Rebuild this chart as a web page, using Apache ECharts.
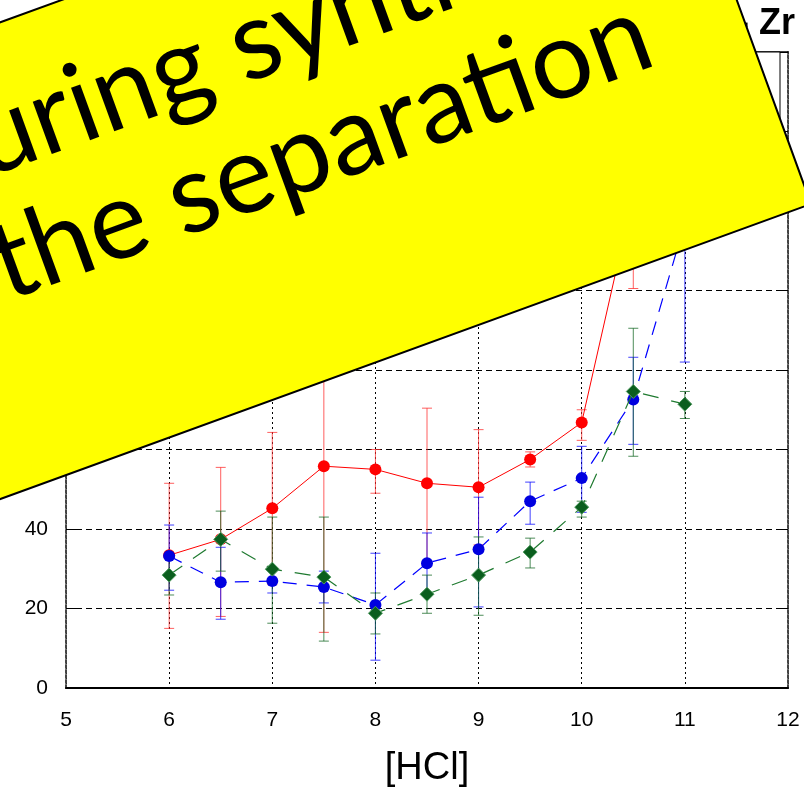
<!DOCTYPE html>
<html>
<head>
<meta charset="utf-8">
<script src="https://cdn.jsdelivr.net/npm/echarts@6/dist/echarts.min.js"></script>
<style>html,body{margin:0;padding:0;background:#fff}#c{width:804px;height:793px}</style>
</head>
<body>
<div id="c"></div>
<script>
// ---- data ----
const hcl = [6, 6.5, 7, 7.5, 8, 8.5, 9, 9.5, 10, 10.5, 11];
const redMean = [33.4, 37.4, 45.2, 55.8, 55.0, 51.5, 50.5, 57.5, 66.8, 124, 138];
const redLow  = [15.0, 18.0, 26.0, 14.0, 49.0, 31.0, 36.0, 55.6, 62.3, 100.5, 118];
const redHigh = [51.5, 55.5, 64.3, 97.6, 60.0, 70.4, 65.0, 59.4, 70.0, 147.5, 158];
const blueMean = [33.2, 26.6, 26.9, 25.4, 20.9, 31.4, 34.9, 47.0, 52.8, 72.6, 117];
const blueLow  = [24.6, 17.3, 23.9, 21.4, 7.0, 23.8, 20.4, 41.2, 44.2, 61.3, 82];
const blueHigh = [41.0, 35.4, 29.9, 29.4, 33.9, 39.0, 48.0, 51.8, 60.8, 83.2, 152];
const greenMean = [28.4, 37.4, 29.9, 27.9, 18.8, 23.6, 28.4, 34.2, 45.5, 74.6, 71.4];
const greenLow  = [23.4, 29.4, 16.3, 11.8, 13.6, 18.8, 18.3, 30.2, 43.0, 58.3, 67.8];
const greenHigh = [33.4, 44.5, 43.0, 43.0, 23.9, 28.4, 38.0, 37.7, 47.0, 90.5, 74.6];
const seriesNames = ['Run 1', 'Run 2', 'Run 3'];
const xTicks = [5, 6, 7, 8, 9, 10, 11, 12];
const yTicks = [0, 20, 40, 60, 80, 100, 120, 140, 160];
const xName = '[HCl]';
const titleText = 'Hf - Zr';
const banner1 = 'during synthesis';
const banner2 = 'the separation';

const pts = (m) => hcl.map((x, i) => [x, m[i]]);
const bars = (lo, hi) => hcl.map((x, i) => [x, lo[i], hi[i]]);

function errRender(color) {
  return function (params, api) {
    const x = api.value(0), lo = api.value(1), hi = api.value(2);
    const a = api.coord([x, lo]), b = api.coord([x, hi]);
    const hw = 5;
    const st = { stroke: color, lineWidth: 1, opacity: 0.75 };
    return { type: 'group', children: [
      { type: 'line', shape: { x1: a[0], y1: a[1], x2: b[0], y2: b[1] }, style: st },
      { type: 'line', shape: { x1: a[0] - hw, y1: a[1], x2: a[0] + hw, y2: a[1] }, style: st },
      { type: 'line', shape: { x1: b[0] - hw, y1: b[1], x2: b[0] + hw, y2: b[1] }, style: st }
    ]};
  };
}

const chart = echarts.init(document.getElementById('c'), null, { renderer: 'canvas' });
const ROT = 20 * Math.PI / 180;
const option = {
  animation: false,
  backgroundColor: '#fff',
  textStyle: { fontFamily: 'Liberation Sans, Arial, sans-serif' },
  title: {
    text: titleText, right: 4, top: 1,
    textStyle: { fontSize: 36, fontWeight: 'bold', color: '#000', fontFamily: 'Liberation Sans, Arial, sans-serif' }
  },
  legend: {
    data: seriesNames, orient: 'vertical', right: 24, top: 52,
    backgroundColor: '#fff', borderColor: '#000', borderWidth: 1,
    padding: [6, 34, 6, 8], itemGap: 10, itemHeight: 14,
    textStyle: { fontSize: 16, color: '#000' }
  },
  grid: { left: 66, right: 16, top: 52, bottom: 105, containLabel: false },
  xAxis: [{
    type: 'value', min: xTicks[0], max: xTicks[xTicks.length - 1], interval: 1,
    name: xName, nameLocation: 'middle', nameGap: 62,
    nameTextStyle: { fontSize: 38, color: '#000', fontFamily: 'Liberation Sans, Arial, sans-serif' },
    axisLine: { onZero: false, lineStyle: { color: '#000', width: 2 } },
    axisTick: { show: false },
    axisLabel: { fontSize: 21, color: '#000', margin: 22 },
    splitLine: { show: true, lineStyle: { color: '#000', width: 1, type: [2, 3] } }
  }, {
    type: 'value', position: 'top', min: 5, max: 12, interval: 1,
    axisLine: { show: true, onZero: false, lineStyle: { color: '#000', width: 1.5 } },
    axisTick: { show: false }, axisLabel: { show: false }, splitLine: { show: false }
  }],
  yAxis: [{
    type: 'value', min: yTicks[0], max: yTicks[yTicks.length - 1], interval: 20,
    axisLine: { show: true, onZero: false, lineStyle: { color: '#444', width: 2, type: [3, 2] } },
    axisTick: { show: true, inside: true, length: 14, lineStyle: { color: '#000', width: 1 } },
    axisLabel: { fontSize: 21, color: '#000', margin: 18 },
    splitLine: { show: true, lineStyle: { color: '#000', width: 1, type: [6, 4] } }
  }, {
    type: 'value', position: 'right', min: 0, max: 160, interval: 20,
    axisLine: { show: true, onZero: false, lineStyle: { color: '#444', width: 2, type: [3, 2] } },
    axisTick: { show: true, inside: true, length: 10, lineStyle: { color: '#000' } },
    axisLabel: { show: false }, splitLine: { show: false }
  }],
  series: [
    { type: 'custom', name: seriesNames[0] + ' err', renderItem: errRender('#ff2a2a'), data: bars(redLow, redHigh), z: 2, silent: true },
    { type: 'custom', name: seriesNames[1] + ' err', renderItem: errRender('#0000ff'), data: bars(blueLow, blueHigh), z: 2, silent: true },
    { type: 'custom', name: seriesNames[2] + ' err', renderItem: errRender('#116622'), data: bars(greenLow, greenHigh), z: 2, silent: true },
    { type: 'line', name: seriesNames[0], data: pts(redMean), symbol: 'circle', symbolSize: 12, z: 3,
      itemStyle: { color: '#ff0000' }, lineStyle: { color: '#ff0000', width: 1 } },
    { type: 'line', name: seriesNames[1], data: pts(blueMean), symbol: 'circle', symbolSize: 12, z: 4,
      itemStyle: { color: '#0000e0' }, lineStyle: { color: '#0000ff', width: 1.2, type: [14, 10] } },
    { type: 'line', name: seriesNames[2], data: pts(greenMean), symbol: 'diamond', symbolSize: 14, z: 5,
      itemStyle: { color: '#0b5e1e', borderColor: '#4f9a5f', borderWidth: 1 },
      lineStyle: { color: '#1f7a30', width: 1.2, type: [16, 13] } }
  ],
  graphic: [{
    type: 'group', x: 811, y: 204, rotation: ROT, z: 100,
    children: [
      { type: 'rect', shape: { x: -1300, y: -448, width: 1300, height: 448 },
        style: { fill: '#ffff00', stroke: '#000', lineWidth: 2 }, z: 100 },
      { type: 'text', x: -827, y: -342, z: 101,
        style: { text: banner1, fill: '#000', font: '110px Lato', align: 'left', verticalAlign: 'middle' } },
      { type: 'text', x: -442, y: -219, z: 101,
        style: { text: banner2, fill: '#000', font: '110px Lato', align: 'center', verticalAlign: 'middle' } }
    ]
  }]
};
chart.setOption(option);
</script>
</body>
</html>
